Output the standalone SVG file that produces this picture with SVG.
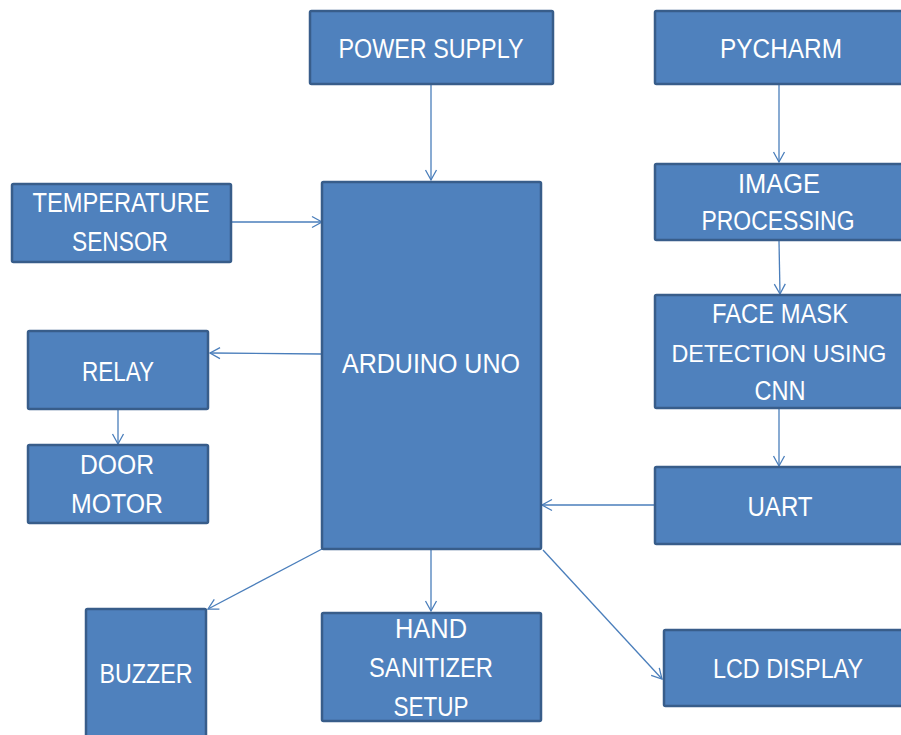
<svg xmlns="http://www.w3.org/2000/svg" width="901" height="735" viewBox="0 0 901 735">
<defs>
<style>
.box{fill:#4F81BD;stroke:#385D8A;stroke-width:2.5}
.t{font-family:"Liberation Sans",Arial,sans-serif;font-size:27px;fill:#ffffff;text-anchor:middle}
.c{stroke:#4A7EBB;stroke-width:1.3;fill:none}
</style>
<marker id="ah" markerUnits="userSpaceOnUse" markerWidth="14" markerHeight="14" refX="11" refY="6" orient="auto" viewBox="0 0 14 12">
<path d="M1,0.5 L11,6 L1,11.5" fill="none" stroke="#4A7EBB" stroke-width="1.3"/>
</marker>
</defs>
<rect width="901" height="735" fill="#ffffff"/>
<g id="connectors">
<line class="c" x1="431" y1="84" x2="431" y2="180" marker-end="url(#ah)"/>
<line class="c" x1="231" y1="222" x2="322" y2="222" marker-end="url(#ah)"/>
<line class="c" x1="321" y1="354" x2="210" y2="353" marker-end="url(#ah)"/>
<line class="c" x1="118" y1="409" x2="118" y2="444" marker-end="url(#ah)"/>
<line class="c" x1="322" y1="549" x2="208" y2="609" marker-end="url(#ah)"/>
<line class="c" x1="431" y1="550" x2="431" y2="611" marker-end="url(#ah)"/>
<line class="c" x1="543" y1="550" x2="662" y2="679" marker-end="url(#ah)"/>
<line class="c" x1="654" y1="505" x2="542" y2="505" marker-end="url(#ah)"/>
<line class="c" x1="779" y1="84" x2="779" y2="162" marker-end="url(#ah)"/>
<line class="c" x1="779" y1="241" x2="780" y2="294" marker-end="url(#ah)"/>
<line class="c" x1="779" y1="409" x2="779" y2="466" marker-end="url(#ah)"/>
</g>
<g id="power-supply">
<rect class="box" x="310" y="11" width="243" height="73" rx="1.5"/>
<text class="t" x="431" y="58" textLength="185" lengthAdjust="spacingAndGlyphs">POWER SUPPLY</text>
</g>
<g id="pycharm">
<rect class="box" x="655" y="11" width="250" height="73" rx="1.5"/>
<text class="t" x="781" y="58" textLength="122" lengthAdjust="spacingAndGlyphs">PYCHARM</text>
</g>
<g id="image-processing">
<rect class="box" x="655" y="164" width="250" height="76" rx="1.5"/>
<text class="t" x="779" y="193" textLength="82" lengthAdjust="spacingAndGlyphs">IMAGE</text>
<text class="t" x="778" y="230" textLength="153" lengthAdjust="spacingAndGlyphs">PROCESSING</text>
</g>
<g id="face-mask-detection">
<rect class="box" x="655" y="295" width="250" height="113" rx="1.5"/>
<text class="t" x="780" y="323" textLength="136" lengthAdjust="spacingAndGlyphs">FACE MASK</text>
<text class="t" x="779" y="362" style="font-size:24px" textLength="215" lengthAdjust="spacingAndGlyphs">DETECTION USING</text>
<text class="t" x="780" y="400" textLength="51" lengthAdjust="spacingAndGlyphs">CNN</text>
</g>
<g id="uart">
<rect class="box" x="655" y="467" width="250" height="77" rx="1.5"/>
<text class="t" x="780" y="516" textLength="65" lengthAdjust="spacingAndGlyphs">UART</text>
</g>
<g id="lcd-display">
<rect class="box" x="664" y="630" width="241" height="76" rx="1.5"/>
<text class="t" x="788" y="678" textLength="150" lengthAdjust="spacingAndGlyphs">LCD DISPLAY</text>
</g>
<g id="arduino-uno">
<rect class="box" x="322" y="182" width="219" height="367" rx="1.5"/>
<text class="t" x="431" y="373" textLength="178" lengthAdjust="spacingAndGlyphs">ARDUINO UNO</text>
</g>
<g id="hand-sanitizer-setup">
<rect class="box" x="322" y="613" width="219" height="108" rx="1.5"/>
<text class="t" x="431" y="638" textLength="72" lengthAdjust="spacingAndGlyphs">HAND</text>
<text class="t" x="431" y="677" textLength="124" lengthAdjust="spacingAndGlyphs">SANITIZER</text>
<text class="t" x="431" y="716" textLength="75" lengthAdjust="spacingAndGlyphs">SETUP</text>
</g>
<g id="buzzer">
<rect class="box" x="86" y="609" width="120" height="135" rx="1.5"/>
<text class="t" x="146" y="683" textLength="93" lengthAdjust="spacingAndGlyphs">BUZZER</text>
</g>
<g id="temperature-sensor">
<rect class="box" x="12" y="184" width="219" height="78" rx="1.5"/>
<text class="t" x="121" y="212" textLength="177" lengthAdjust="spacingAndGlyphs">TEMPERATURE</text>
<text class="t" x="120" y="251" textLength="96" lengthAdjust="spacingAndGlyphs">SENSOR</text>
</g>
<g id="relay">
<rect class="box" x="28" y="331" width="180" height="78" rx="1.5"/>
<text class="t" x="118" y="381" textLength="72" lengthAdjust="spacingAndGlyphs">RELAY</text>
</g>
<g id="door-motor">
<rect class="box" x="28" y="445" width="180" height="78" rx="1.5"/>
<text class="t" x="117" y="474" textLength="74" lengthAdjust="spacingAndGlyphs">DOOR</text>
<text class="t" x="117" y="513" textLength="92" lengthAdjust="spacingAndGlyphs">MOTOR</text>
</g>
</svg>
